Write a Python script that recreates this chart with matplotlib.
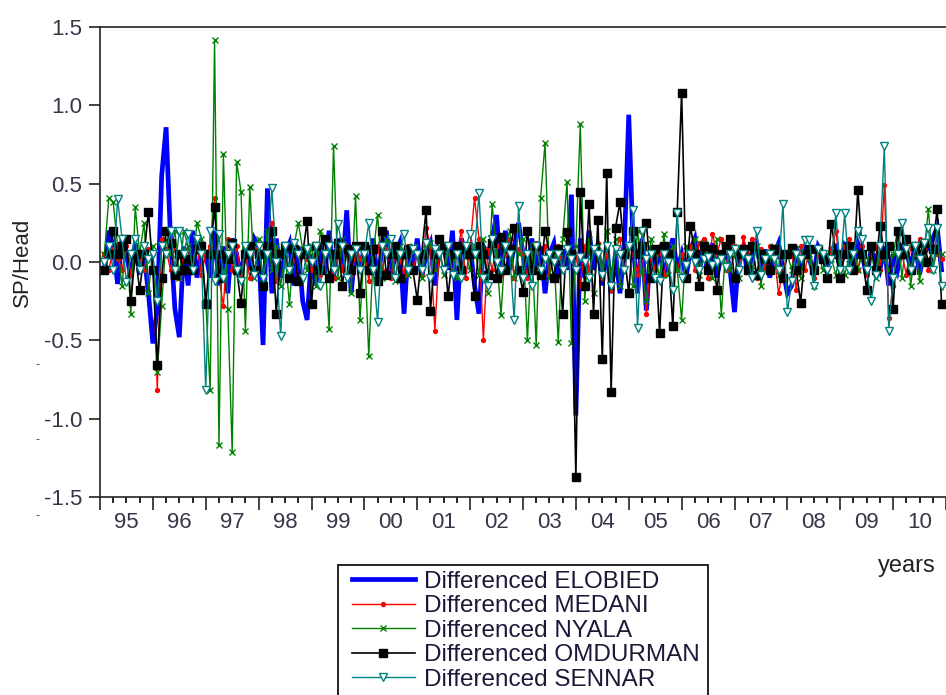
import numpy as np
import matplotlib
matplotlib.use("Agg")
import matplotlib.pyplot as plt
from matplotlib.patches import Rectangle

plt.rcParams['font.family'] = ['Liberation Sans', 'DejaVu Sans']

# monthly first differences, Feb 1995 .. Dec 2010 (one row per year)
elobied = [
    -0.05, 0.20, 0.10, -0.14, 0.15, 0.05, -0.10, 0.12, -0.08, 0.05, -0.20,
    -0.52, -0.30, 0.55, 0.86, 0.15, -0.30, -0.48, 0.10, -0.15, 0.20, -0.10, 0.05,
    0.05, -0.10, 0.20, -0.15, 0.10, -0.20, 0.15, 0.05, -0.10, 0.10, -0.05, 0.15,
    0.10, -0.53, 0.47, -0.20, 0.15, -0.10, 0.05, 0.12, -0.15, 0.10, -0.25, -0.37,
    0.05, -0.15, 0.12, -0.08, 0.20, -0.10, 0.15, -0.05, 0.33, -0.20, 0.10, -0.05,
    0.10, -0.05, 0.15, -0.12, 0.08, 0.20, -0.10, 0.05, 0.12, -0.33, 0.10, -0.05,
    0.15, -0.10, 0.05, 0.12, -0.15, 0.08, 0.10, -0.05, 0.20, -0.37, 0.15, 0.05,
    0.10, -0.15, -0.33, 0.10, 0.05, 0.15, 0.30, -0.10, 0.20, -0.05, 0.10, 0.25,
    0.05, -0.10, 0.15, -0.05, 0.10, -0.20, 0.05, 0.12, -0.10, 0.08, -0.05, 0.43,
    -0.98, 0.15, -0.10, 0.20, -0.05, 0.10, -0.15, 0.12, -0.20, 0.05, -0.20, 0.10,
    0.94, 0.10, -0.20, 0.15, -0.31, 0.10, -0.05, 0.08, -0.10, 0.05, 0.15, -0.05,
    0.05, -0.10, 0.08, 0.15, -0.05, 0.10, -0.08, 0.12, -0.10, 0.05, 0.08, -0.05,
    -0.32, 0.05, 0.10, -0.08, 0.05, 0.12, -0.05, 0.08, -0.10, 0.05, 0.12, -0.05,
    -0.20, -0.15, 0.10, -0.05, 0.08, 0.02, -0.08, 0.10, 0.05, -0.05, 0.08, 0.10,
    -0.05, 0.10, 0.05, -0.08, 0.12, 0.05, -0.10, 0.08, 0.02, -0.05, 0.10, -0.15,
    0.05, -0.05, 0.10, 0.08, -0.05, 0.12, -0.08, 0.05, 0.10, 0.15, 0.22, -0.05,
]
medani = [
    0.05, -0.05, 0.08, 0.02, -0.05, 0.10, -0.08, 0.05, 0.02, -0.05, 0.08,
    0.05, -0.82, 0.15, 0.08, -0.05, 0.10, -0.10, 0.05, 0.08, -0.05, 0.10, -0.08,
    0.05, 0.10, 0.41, -0.10, -0.28, 0.15, -0.05, 0.10, -0.08, 0.05, -0.10, 0.08,
    0.05, -0.10, 0.08, 0.25, -0.12, 0.05, 0.10, -0.08, 0.05, -0.12, 0.08, 0.02,
    -0.05, 0.10, -0.08, 0.05, 0.12, -0.10, 0.08, -0.05, 0.10, -0.08, 0.05, 0.02,
    0.08, -0.12, 0.05, 0.10, -0.05, 0.08, -0.10, 0.05, 0.02, -0.08, 0.10, -0.05,
    0.05, -0.08, 0.22, 0.10, -0.44, 0.08, -0.05, 0.10, -0.08, 0.05, 0.20, -0.10,
    0.10, 0.41, 0.15, -0.50, 0.08, -0.05, 0.10, -0.08, 0.05, 0.15, -0.10, 0.08,
    0.05, -0.10, 0.08, 0.12, -0.05, 0.10, -0.08, 0.05, 0.10, -0.05, 0.08, 0.02,
    0.05, -0.15, 0.10, -0.05, 0.08, 0.12, -0.10, 0.05, -0.18, 0.08, 0.15, -0.05,
    0.10, 0.05, -0.08, 0.12, -0.33, 0.05, -0.05, 0.10, -0.08, 0.05, 0.08, -0.05,
    0.05, -0.08, 0.10, -0.05, 0.12, 0.15, -0.10, 0.18, 0.05, 0.15, -0.05, 0.12,
    0.10, -0.05, 0.16, 0.05, 0.15, -0.10, 0.08, -0.05, 0.10, 0.05, -0.20, -0.05,
    0.05, 0.08, -0.18, 0.10, -0.05, 0.08, -0.10, 0.05, 0.02, -0.05, 0.08, 0.20,
    -0.05, 0.10, 0.15, 0.08, -0.05, 0.10, -0.08, 0.05, 0.10, -0.05, 0.49, -0.36,
    -0.15, 0.10, 0.05, -0.08, 0.10, 0.05, 0.15, 0.08, -0.05, 0.10, 0.05, 0.02,
]
nyala = [
    0.05, 0.41, 0.38, 0.10, -0.15, 0.15, -0.33, 0.35, 0.05, 0.25, -0.20,
    0.10, -0.70, -0.28, 0.15, 0.05, 0.20, -0.10, 0.20, 0.10, -0.05, 0.25, 0.15,
    -0.25, -0.82, 1.42, -1.17, 0.69, -0.30, -1.21, 0.64, 0.45, -0.44, 0.48, -0.10,
    0.15, -0.10, 0.20, -0.05, 0.10, -0.15, 0.05, -0.27, 0.10, 0.25, 0.08, -0.05,
    0.10, -0.15, 0.20, 0.05, -0.43, 0.74, -0.10, 0.15, 0.05, -0.20, 0.42, -0.37,
    0.10, -0.60, 0.05, 0.30, -0.10, 0.15, 0.05, -0.12, 0.10, 0.05, -0.08, 0.10,
    0.05, -0.10, 0.08, 0.12, -0.05, 0.10, -0.08, 0.05, 0.02, -0.10, 0.08, 0.05,
    -0.05, 0.10, -0.08, 0.15, -0.20, 0.37, 0.05, -0.34, 0.10, 0.20, -0.10, 0.05,
    0.15, -0.50, 0.10, -0.53, 0.41, 0.76, -0.10, 0.05, -0.51, 0.15, 0.51, -0.52,
    0.10, 0.88, -0.25, 0.15, -0.20, 0.10, -0.05, 0.20, -0.10, 0.15, -0.15, 0.05,
    0.10, -0.15, 0.20, -0.05, -0.25, 0.15, 0.05, -0.10, 0.18, -0.08, 0.10, -0.05,
    -0.37, 0.10, 0.05, 0.15, -0.08, 0.12, 0.05, -0.10, 0.15, -0.34, 0.10, -0.05,
    0.05, -0.10, 0.08, 0.02, -0.05, 0.10, -0.15, 0.05, 0.02, 0.10, -0.08, 0.05,
    0.05, -0.05, 0.08, -0.10, 0.05, 0.02, -0.15, 0.08, -0.05, 0.05, 0.02, -0.08,
    0.05, -0.08, 0.02, 0.10, -0.05, 0.05, -0.02, 0.08, -0.10, 0.05, 0.02, -0.05,
    0.05, 0.20, -0.10, 0.15, -0.15, 0.10, -0.12, 0.05, 0.34, -0.05, 0.08, 0.05,
]
omdurman = [
    -0.05, 0.05, 0.20, 0.05, 0.10, 0.15, -0.25, 0.05, -0.18, 0.05, 0.32,
    -0.05, -0.66, -0.10, 0.20, 0.12, -0.08, 0.05, -0.05, 0.02, -0.05, 0.08, 0.10,
    -0.27, 0.05, 0.35, -0.10, 0.05, 0.02, 0.12, -0.05, -0.26, 0.05, 0.10, -0.05,
    0.05, -0.15, 0.10, 0.20, -0.33, 0.05, 0.10, -0.10, 0.08, -0.12, 0.05, 0.26,
    -0.27, 0.10, -0.05, 0.15, -0.10, 0.05, 0.12, -0.15, 0.08, -0.05, 0.10, -0.20,
    0.10, -0.05, 0.08, -0.12, 0.20, -0.08, 0.05, 0.10, -0.10, 0.05, 0.08, -0.05,
    -0.24, 0.05, 0.33, -0.31, 0.05, 0.15, 0.10, -0.22, 0.05, 0.10, -0.05, 0.08,
    0.05, -0.22, 0.10, 0.05, -0.08, 0.12, -0.10, 0.16, -0.05, 0.08, 0.22, -0.05,
    -0.19, 0.20, -0.05, 0.10, -0.08, 0.20, 0.05, -0.10, 0.08, -0.33, 0.19, 0.05,
    -1.37, 0.45, -0.15, 0.37, -0.33, 0.27, -0.62, 0.57, -0.83, 0.22, 0.38, 0.05,
    -0.20, 0.20, 0.05, 0.10, 0.25, -0.10, 0.08, -0.45, 0.10, 0.05, -0.41, 0.32,
    1.08, -0.10, 0.23, 0.05, -0.15, 0.10, -0.05, 0.08, -0.18, 0.05, 0.10, 0.15,
    -0.10, 0.05, 0.08, -0.05, 0.10, -0.08, 0.05, 0.02, -0.05, 0.08, 0.05, -0.10,
    0.05, 0.09, -0.05, -0.26, 0.05, 0.08, -0.05, 0.08, 0.02, -0.10, 0.24, 0.05,
    -0.10, 0.05, 0.10, -0.05, 0.46, 0.05, -0.18, 0.10, -0.05, 0.23, 0.05, 0.10,
    -0.30, 0.20, 0.05, 0.15, -0.05, 0.10, 0.05, 0.12, 0.00, 0.08, 0.34, -0.27,
]
sennar = [
    0.00, 0.10, -0.05, 0.40, 0.15, -0.13, 0.05, 0.15, -0.05, 0.10, 0.02,
    0.05, -0.25, 0.10, 0.05, 0.20, -0.05, 0.20, 0.05, 0.18, -0.05, 0.15, 0.05,
    -0.82, 0.20, -0.12, 0.18, -0.10, 0.05, 0.10, -0.05, -0.12, 0.10, 0.05, -0.08,
    0.10, -0.10, 0.05, 0.47, 0.00, -0.47, 0.10, -0.05, 0.12, 0.05, -0.10, 0.08,
    0.00, 0.10, -0.15, 0.05, 0.10, -0.05, 0.24, 0.10, -0.10, 0.05, 0.08, -0.05,
    0.05, 0.25, -0.05, -0.38, 0.10, 0.05, 0.15, -0.10, 0.05, 0.18, -0.05, 0.08,
    0.05, -0.05, 0.12, -0.10, 0.08, 0.05, -0.05, 0.10, -0.08, 0.05, -0.10, 0.10,
    0.18, 0.05, 0.44, -0.10, -0.15, 0.15, 0.00, -0.05, 0.10, 0.05, -0.37, 0.36,
    -0.10, 0.05, -0.15, 0.10, -0.05, 0.02, 0.05, 0.00, 0.05, -0.05, 0.08, 0.02,
    -0.05, 0.03, 0.00, -0.10, 0.08, 0.05, -0.08, 0.10, -0.15, 0.08, 0.05, -0.05,
    0.10, 0.33, -0.42, 0.20, 0.02, 0.05, -0.10, -0.12, 0.05, 0.00, -0.18, 0.31,
    -0.10, -0.02, 0.05, 0.00, -0.05, 0.02, 0.03, -0.02, 0.00, 0.02, -0.03, 0.05,
    0.08, -0.05, 0.05, 0.02, -0.10, 0.20, -0.08, 0.02, 0.05, 0.02, -0.05, 0.37,
    -0.32, -0.12, 0.05, 0.02, 0.14, 0.14, -0.15, 0.08, 0.05, -0.05, 0.02, 0.31,
    -0.05, 0.31, -0.05, 0.05, 0.20, 0.15, -0.05, -0.25, -0.08, 0.10, 0.74, -0.44,
    -0.10, 0.05, 0.25, 0.08, -0.05, 0.10, 0.02, 0.12, 0.22, -0.05, 0.22, -0.15,
]

year_labels = ['95', '96', '97', '98', '99', '00', '01', '02', '03', '04',
               '05', '06', '07', '08', '09', '10']
first_year = 1995

# month position in decimal years (series starts in February)
t = first_year + np.arange(1, len(elobied) + 1) / 12.0

series = [
    ('Differenced ELOBIED', elobied, dict(color='#0000ff', lw=3.4, solid_joinstyle='miter')),
    ('Differenced MEDANI', medani, dict(color='#ff0000', lw=1.0, marker='o', ms=2.8)),
    ('Differenced NYALA', nyala, dict(color='#008000', lw=1.0, marker='x', ms=4.5, mew=1.0)),
    ('Differenced OMDURMAN', omdurman, dict(color='#000000', lw=1.2, marker='s', ms=5.5)),
    ('Differenced SENNAR', sennar, dict(color='#008080', lw=1.0, marker='v', ms=5.5,
                                        mfc='white', mec='#008080', mew=1.0)),
]

tick_col = '#3a3448'
W, H = 946, 695

fig = plt.figure(figsize=(W / 100, H / 100), dpi=100)
ax = fig.add_axes([100 / W, 1 - 497 / H, 846 / W, 470 / H])

handles = []
for name, vals, kw in series:
    h, = ax.plot(t, vals, label=name, **kw)
    handles.append(h)

ax.set_xlim(first_year, first_year + 16)
ax.set_ylim(-1.5, 1.5)

ax.spines['right'].set_visible(False)
for s in ['left', 'bottom', 'top']:
    ax.spines[s].set_color('#222222')
    ax.spines[s].set_linewidth(1.2)

ax.set_yticks(np.arange(-1.5, 1.51, 0.5))
ax.set_yticklabels(['%.1f' % v for v in np.arange(-1.5, 1.51, 0.5)])
ax.tick_params(axis='y', direction='out', length=8, width=1.2, color='#222222',
               labelsize=16, labelcolor=tick_col, pad=5)

years = np.arange(first_year, first_year + 17)
ax.set_xticks(years)
ax.set_xticklabels([])
ax.set_xticks([y + q / 4 for y in years[:-1] for q in (1, 2, 3)], minor=True)
ax.tick_params(axis='x', which='major', direction='out', length=9, width=1.2, color='#222222')
ax.tick_params(axis='x', which='minor', direction='out', length=4, width=1.4, color='#222222')

sec = ax.secondary_xaxis('bottom')
sec.set_xticks(years[:-1] + 0.5)
sec.set_xticklabels(year_labels)
sec.tick_params(length=0, labelsize=16, labelcolor=tick_col, pad=11)
sec.spines['bottom'].set_visible(False)

fig.text(22 / W, 1 - 262 / H, 'SP/Head', rotation=90, ha='center', va='center',
         fontsize=16, color='#222222')
fig.text(907 / W, 1 - 566 / H, 'years', ha='center', va='center',
         fontsize=17, color='#222222')

# stray dash marks left of the axis
for yy in (365, 440, 516):
    fig.text(37 / W, 1 - yy / H, '-', ha='center', va='center', fontsize=9, color='#444444')

# legend box runs off the bottom of the image
fig.patches.append(Rectangle((338 / W, -0.05), (708 - 338) / W, 0.05 + 1 - 565 / H,
                             transform=fig.transFigure, fill=False,
                             edgecolor='#111111', linewidth=1.3))
leg = fig.legend(handles=handles, loc='upper left',
                 bbox_to_anchor=(347 / W, 1 - 566 / H),
                 fontsize=17.5, frameon=False, borderpad=0.2,
                 labelspacing=0.1, handlelength=2.6, handletextpad=0.37,
                 borderaxespad=0)
for txt in leg.get_texts():
    txt.set_color('#1c1838')

fig.savefig('out.png', dpi=100)
